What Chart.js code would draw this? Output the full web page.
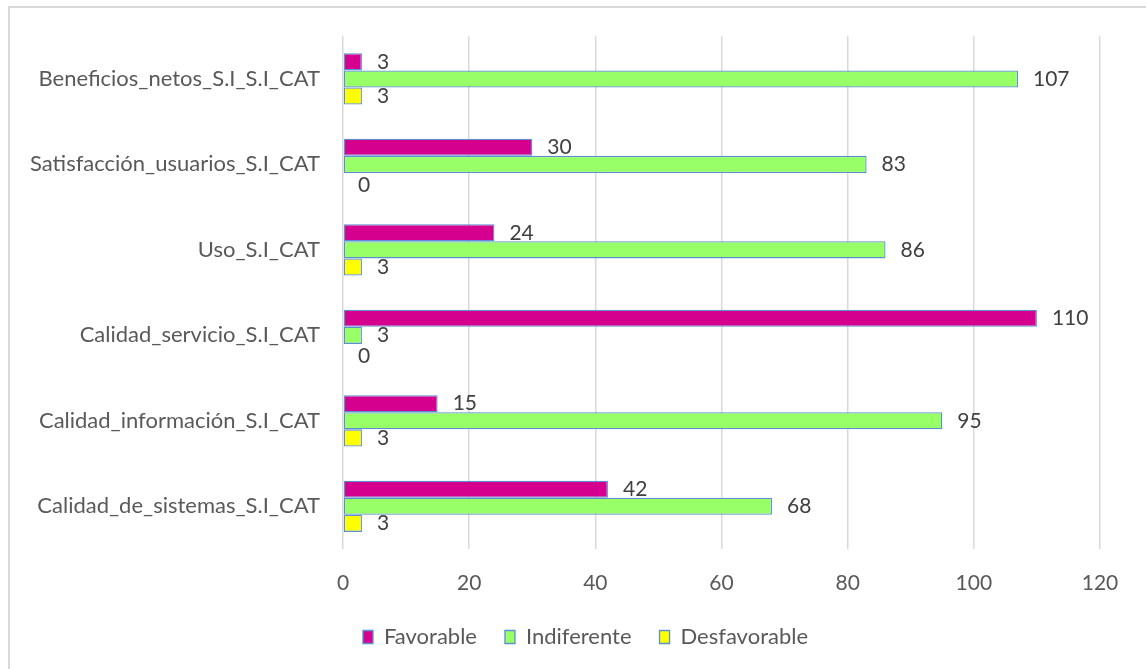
<!DOCTYPE html>
<html>
<head>
<meta charset="utf-8">
<script src="https://cdn.jsdelivr.net/npm/chart.js@4"></script>
<style>
  html, body { margin: 0; padding: 0; background: #fff; overflow: hidden; }
  #frame {
    position: absolute; left: 8px; top: 6px; width: 1200px; height: 700px;
    border: 2px solid #d9d9d9; box-sizing: border-box;
  }
  #chart { position: absolute; left: 0; top: 0; }
</style>
</head>
<body>
<div id="frame"></div>
<canvas id="chart" width="1146" height="669"></canvas>
<script>
  var categories = [
    "Beneficios_netos_S.I_S.I_CAT",
    "Satisfacción_usuarios_S.I_CAT",
    "Uso_S.I_CAT",
    "Calidad_servicio_S.I_CAT",
    "Calidad_información_S.I_CAT",
    "Calidad_de_sistemas_S.I_CAT"
  ];
  var favorable = [3, 30, 24, 110, 15, 42];
  var indiferente = [107, 83, 86, 3, 95, 68];
  var desfavorable = [3, 0, 3, 0, 3, 3];
  var xTicks = [0, 20, 40, 60, 80, 100, 120];

  var fontFamily = "Lato, 'Open Sans', sans-serif";
  var edge = "#5b8fd0";

  // value labels at bar ends, like Excel's "outside end"
  var barLabels = {
    id: "barLabels",
    afterLayout: function (chart) {
      // legend is centred on the whole chart frame, not on the canvas
      if (chart.legend) chart.legend.left = 71;
    },
    afterDatasetsDraw: function (chart) {
      var ctx = chart.ctx;
      ctx.save();
      ctx.font = "21px " + fontFamily;
      ctx.fillStyle = "#404040";
      ctx.textAlign = "left";
      ctx.textBaseline = "middle";
      chart.data.datasets.forEach(function (ds, i) {
        var meta = chart.getDatasetMeta(i);
        meta.data.forEach(function (bar, j) {
          var v = ds.data[j];
          ctx.fillText(String(v), bar.x + 15, bar.y + (v === 0 ? 4 : 0));
        });
      });
      ctx.restore();
    }
  };

  new Chart(document.getElementById("chart"), {
    type: "bar",
    data: {
      labels: categories,
      datasets: [
        { label: "Favorable", data: favorable, backgroundColor: "#d6008f" },
        { label: "Indiferente", data: indiferente, backgroundColor: "#99ff66" },
        { label: "Desfavorable", data: desfavorable, backgroundColor: "#ffff00" }
      ].map(function (d) {
        d.borderColor = edge;
        d.borderWidth = 1.3;
        d.borderSkipped = false;
        d.barPercentage = 1;
        d.categoryPercentage = 0.6;
        return d;
      })
    },
    options: {
      indexAxis: "y",
      responsive: false,
      animation: false,
      layout: { padding: { left: 0, right: 46, top: 35, bottom: 11 } },
      plugins: {
        tooltip: { enabled: false },
        legend: {
          position: "bottom",
          align: "center",
          labels: {
            font: { family: fontFamily, size: 22 },
            color: "#595959",
            boxWidth: 10,
            boxHeight: 13,
            padding: 28
          }
        }
      },
      scales: {
        x: {
          min: 0,
          max: 120,
          afterBuildTicks: function (scale) {
            scale.ticks = xTicks.map(function (v) { return { value: v }; });
          },
          afterFit: function (scale) { scale.height = 49; },
          grid: { color: "#d9d9d9", lineWidth: 1.5, drawTicks: false, tickLength: 0 },
          border: { display: false },
          ticks: { font: { family: fontFamily, size: 21 }, color: "#595959", padding: 22 }
        },
        y: {
          afterFit: function (scale) { scale.width = 343; },
          grid: { display: false, drawTicks: false, tickLength: 0 },
          border: { display: false },
          ticks: { font: { family: fontFamily, size: 22 }, color: "#595959", padding: 23 }
        }
      }
    },
    plugins: [barLabels]
  });
</script>
</body>
</html>
